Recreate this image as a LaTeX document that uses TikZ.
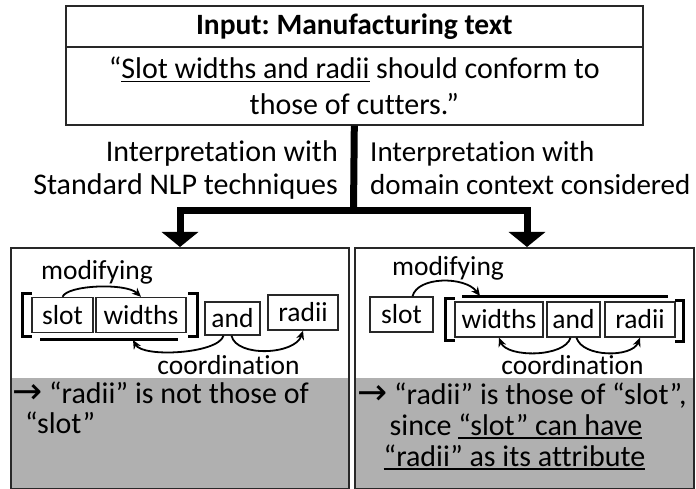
\documentclass[tikz,border=0pt]{standalone}
\usepackage{fontspec}
\setmainfont{Carlito}[Ligatures=NoCommon]
\newfontfamily\arrowfont{DejaVu Sans}
\usetikzlibrary{arrows.meta}
\frenchspacing
\newcommand{\myul}[1]{\leavevmode\setbox0=\hbox{#1}\rlap{\rule[-4pt]{\wd0}{1.6pt}}\box0\relax}
\newcommand{\rarr}{{\arrowfont\fontsize{36}{36}\selectfont →}}
\definecolor{panelgray}{RGB}{176,176,176}
\definecolor{edge}{RGB}{40,40,40}
\begin{document}
\begin{tikzpicture}[x=1pt,y=-1pt,
  frame/.style={draw=edge, line width=1.6pt, inner sep=0pt},
  grayarea/.style={fill=panelgray, inner sep=0pt, anchor=south west},
  wordbox/.style={draw=edge, line width=1.4pt, minimum height=35pt, inner sep=0pt, font=\fontsize{27.5}{30}\selectfont},
  lbl/.style={inner sep=0pt, font=\fontsize{27.5}{30}\selectfont},
  big/.style={inner sep=0pt, font=\fontsize{30}{36}\selectfont},
  rlab/.style={inner sep=0pt, font=\fontsize{29}{36}\selectfont},
  brk/.style={line width=3pt},
  dep/.style={line width=1.8pt, -{Stealth[length=9pt,width=8pt]}},
  flowline/.style={line width=7pt},
  flow/.style={line width=7pt, {Triangle[length=15pt,width=36pt]}-{Triangle[length=15pt,width=36pt]}}]
\useasboundingbox (0,0) rectangle (696,489);

% top box
\node[frame, minimum width=577pt, minimum height=41pt, anchor=north west,
      font=\bfseries\fontsize{29.5}{36}\selectfont] (title) at (65,5) {Input: Manufacturing text};
\node[frame, minimum width=577pt, minimum height=78pt, anchor=north west, align=center, big]
      (quote) at (65,46) {“\myul{Slot widths and radii} should conform to\\those of cutters.”};

% interpretation labels
\node[big, anchor=base east] (il1) at (338,162) {Interpretation with};
\node[big, anchor=base east] (il2) at (338,195) {Standard NLP techniques};
\node[rlab, anchor=base west] (ir1) at (370,162) {Interpretation with};
\node[rlab, anchor=base west] (ir2) at (370,195) {domain context considered};

% panels
\node[grayarea, minimum width=338pt, minimum height=110pt] (lgray) at (10,488) {};
\node[grayarea, minimum width=339pt, minimum height=110pt] (rgray) at (354,488) {};
\node[frame, minimum width=338pt, minimum height=241pt, anchor=north west] (lp) at (10,247) {};
\node[frame, minimum width=339pt, minimum height=241pt, anchor=north west] (rp) at (354,247) {};

% flow connectors
\coordinate (hub) at (353.5,211);
\coordinate (la) at (180,211);
\coordinate (ra) at (527,211);
\draw[flowline] (quote.south) -- (hub);
\draw[flow] (la |- lp.north) -- (la) -- (ra) -- (ra |- rp.north);

% ---- left panel ----
\node[lbl] (lmod) at (97,272) {modifying};
\node[wordbox, minimum width=61pt] (lslot) at (62.5,315) {slot};
\node[wordbox, minimum width=90pt] (lwidths) at (141,315) {widths};
\node[wordbox, minimum width=55pt, minimum height=33pt] (land) at (232.5,318.5) {and};
\node[wordbox, minimum width=70pt] (lradii) at (303,312.5) {radii};
\draw[brk] (32,293) -- (22,293) -- (22,336) -- (32,336);
\draw[brk] (188,293) -- (197,293) -- (197,336) -- (188,336);
\coordinate (lul1) at (40,339);
\coordinate (lul2) at (178,339);
\coordinate (lult) at (133,340);
\draw[brk] (lul1) -- (lul2);
\draw[dep] (lslot.north) .. controls +(5,-12) and +(-15,-14) .. (lwidths.north);
\draw[dep] ([xshift=-9pt]land.south) .. controls +(-5,18) and +(10,18) .. (lult);
\draw[dep] ([xshift=-1pt]land.south) .. controls +(5,22) and +(-8,24) .. (lradii.south);
\node[lbl] (lcoord) at (228.5,365) {coordination};
\node[big, anchor=base west] (lres1) at (12,403) {\rarr{} “radii” is not those of};
\node[big, anchor=base west] (lres2) at (25,433) {“slot”};

% ---- right panel ----
\node[lbl] (rmod) at (448,268.5) {modifying};
\node[wordbox, minimum width=63pt] (rslot) at (401.5,314.5) {slot};
\node[wordbox, minimum width=88pt] (rwidths) at (499,319.5) {widths};
\node[wordbox, minimum width=53pt] (rand) at (573.5,319.5) {and};
\node[wordbox, minimum width=70pt] (rradii) at (640,319.5) {radii};
\draw[brk] (455,298) -- (445,298) -- (445,340) -- (455,340);
\draw[brk] (675,300) -- (683,300) -- (683,341) -- (675,341);
\coordinate (rol1) at (462,296);
\coordinate (rol2) at (668,296);
\coordinate (rmt) at (480,296);
\draw[brk] (rol1) -- (rol2);
\draw[dep] ([xshift=11pt]rslot.north) .. controls +(5,-20) and +(-15,-20) .. (rmt);
\draw[dep] ([xshift=-3pt]rand.south) .. controls +(-6,20) and +(8,20) .. (rwidths.south);
\draw[dep] ([xshift=3pt]rand.south) .. controls +(6,20) and +(-8,20) .. (rradii.south);
\node[lbl] (rcoord) at (572.5,365) {coordination};
\node[big, anchor=base west] (rres1) at (357,404) {\rarr{} “radii” is those of “slot”,};
\node[big, anchor=base] (rres2) at (516,435) {since \myul{“slot” can have}};
\node[big, anchor=base] (rres3) at (514.5,466) {\myul{“radii” as its attribute}};
\end{tikzpicture}
\end{document}
